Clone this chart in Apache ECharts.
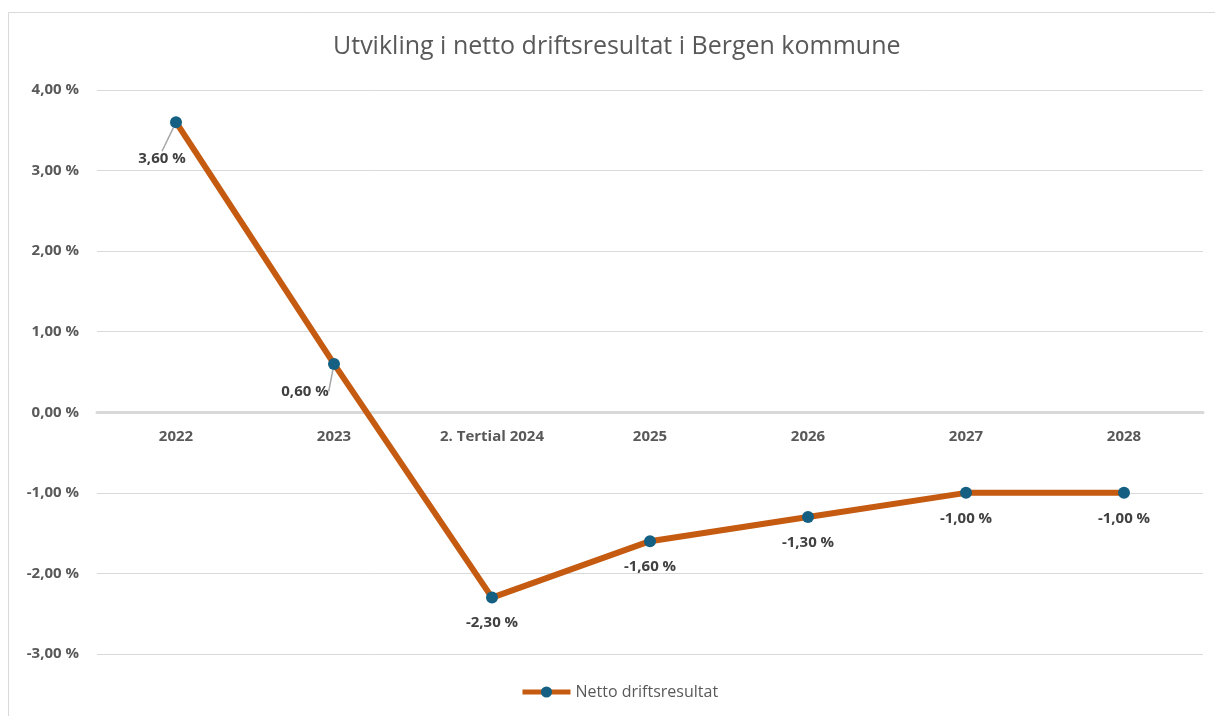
<!DOCTYPE html>
<html>
<head>
<meta charset="utf-8">
<script src="https://cdn.jsdelivr.net/npm/echarts@6/dist/echarts.min.js"></script>
<style>
  html, body { margin: 0; padding: 0; background: #fff; }
  #main { width: 1215px; height: 716px; }
</style>
</head>
<body>
<div id="main"></div>
<script>
var title_text = 'Utvikling i netto driftsresultat i Bergen kommune';
var series_name = 'Netto driftsresultat';
var categories = ['2022', '2023', '2. Tertial 2024', '2025', '2026', '2027', '2028'];
var values = [3.6, 0.6, -2.3, -1.6, -1.3, -1.0, -1.0];
var y_min = -3, y_max = 4, y_step = 1;

function pct(v) {
  return v.toFixed(2).replace('.', ',') + ' %';
}

var grid_top = 90, grid_bottom = 62;
var plot_h = 716 - grid_top - grid_bottom;
// move the category axis up to the zero line
var zero_offset = plot_h * (0 - y_min) / (y_max - y_min);

// the first two labels sit to the left with a leader line
var series_data = values.map(function (v, i) {
  if (i < 2) {
    return { value: v, labelLine: { show: true } };
  }
  return { value: v };
});

var chart = echarts.init(document.getElementById('main'));

var option = {
  backgroundColor: '#fff',
  textStyle: { fontFamily: 'Open Sans' },
  graphic: [{
    type: 'rect',
    shape: { x: 8.5, y: 12.5, width: 1300, height: 800 },
    style: { fill: 'none', stroke: '#d9d9d9', lineWidth: 1 },
    silent: true
  }],
  title: {
    text: title_text,
    left: 328,
    top: 29,
    textStyle: { fontFamily: 'Open Sans', fontSize: 25, fontWeight: 'normal', color: '#595959' }
  },
  legend: {
    data: [series_name],
    bottom: 11,
    left: 515,
    itemWidth: 48,
    itemHeight: 14,
    itemGap: 4,
    lineStyle: { width: 5 },
    textStyle: { fontFamily: 'Open Sans', fontSize: 16, color: '#595959' }
  },
  grid: { left: 97, right: 12, top: grid_top, bottom: grid_bottom, containLabel: false },
  xAxis: {
    type: 'category',
    data: categories,
    boundaryGap: true,
    offset: -zero_offset,
    axisLine: { onZero: false, lineStyle: { color: '#d9d9d9', width: 3 } },
    axisTick: { show: false },
    axisLabel: { margin: 17, fontFamily: 'Open Sans', fontSize: 15, fontWeight: 'bold', color: '#595959' }
  },
  yAxis: {
    type: 'value',
    min: y_min,
    max: y_max,
    interval: y_step,
    axisLine: { show: false },
    axisTick: { show: false },
    splitLine: { lineStyle: { color: '#d9d9d9', width: 1 } },
    axisLabel: {
      margin: 18,
      fontFamily: 'Open Sans',
      fontSize: 15,
      fontWeight: 'bold',
      color: '#595959',
      formatter: function (v) { return pct(v); }
    }
  },
  series: [{
    name: series_name,
    type: 'line',
    data: series_data,
    symbol: 'circle',
    symbolSize: 12,
    lineStyle: { color: '#c55a11', width: 6 },
    itemStyle: { color: '#156082' },
    label: {
      show: true,
      position: 'bottom',
      distance: 12,
      fontFamily: 'Open Sans',
      fontSize: 15,
      fontWeight: 'bold',
      color: '#404040',
      formatter: function (p) { return pct(p.value); }
    },
    labelLayout: function (params) {
      if (params.dataIndex === 0) return { dx: -14, dy: 11 };
      if (params.dataIndex === 1) return { dx: -29, dy: 2 };
      return {};
    },
    labelLine: { show: false, length2: 0, lineStyle: { color: '#a6a6a6', width: 1.5 } },
    z: 3
  }]
};

chart.setOption(option);
window.addEventListener('resize', function () {
  chart.resize();
});
</script>
</body>
</html>
